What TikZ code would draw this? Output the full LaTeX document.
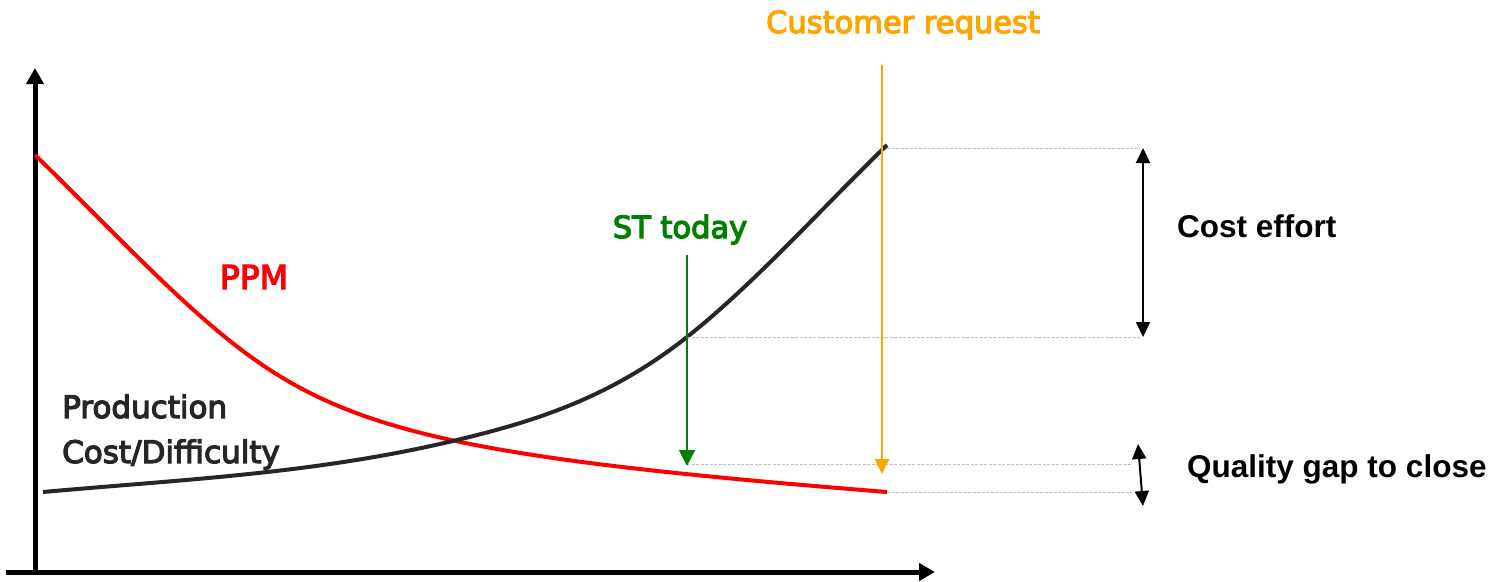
\documentclass[tikz,border=0pt]{standalone}
\usepackage{fontspec}
\setmainfont{DejaVu Sans}
\newfontfamily\arialbf{Liberation Sans Bold}
\usetikzlibrary{arrows.meta}
\newcommand\heavytext[1]{\special{pdf:code 2 Tr 1.2 w}#1\special{pdf:code 0 Tr}}
\definecolor{ppmred}{HTML}{FF0000}
\definecolor{costblk}{HTML}{262626}
\definecolor{stgreen}{HTML}{008000}
\definecolor{custorange}{HTML}{FFA500}
\definecolor{guide}{HTML}{BFBFBF}
\begin{document}
\begin{tikzpicture}[x=1pt,y=-1pt,
  axis/.style={line width=5pt,-{Triangle[width=17pt,length=16pt]}},
  guideline/.style={guide,line width=0.8pt,dash pattern=on 3pt off 1.5pt},
  dim/.style={line width=2pt,{Triangle[width=14pt,length=15pt]}-{Triangle[width=14pt,length=15pt]}},
  lbl/.style={inner sep=0pt,anchor=base,font=\fontsize{30.5}{36}\selectfont},
  blbl/.style={inner sep=0pt,anchor=base west,font=\arialbf\fontsize{31.5}{36}\selectfont}]
\useasboundingbox (0,0) rectangle (1498,581);
% axes
\coordinate (orig) at (35,572);
\coordinate (ytip) at (35,68);
\coordinate (xstart) at (6,572);
\coordinate (xtip) at (935,572);
\draw[axis] (35,574) -- (ytip);
\draw[axis] (xstart) -- (xtip);
% curves
\coordinate (r0) at (35,155);
\coordinate (r1) at (213,327);
\coordinate (r2) at (887,492);
\draw[ppmred,line width=4pt] (r0) .. controls (95,213) and (155,277.7) .. (r1)
  .. controls (333,429) and (437,456) .. (r2);
\coordinate (k0) at (43,492);
\coordinate (k1) at (457,440);
\coordinate (k2) at (687,337);
\coordinate (k3) at (887,145);
\draw[costblk,line width=4pt] (k0) .. controls (183,479.4) and (317,473.6) .. (k1)
  .. controls (534,421.5) and (610,398) .. (k2)
  .. controls (754,284) and (820,210) .. (k3);
% reference points
\coordinate (ctop) at (887,148);
\coordinate (qtop) at (687,464);
\coordinate (qbot) at (887,492);
\coordinate (ctopR) at (1140,148);
\coordinate (cmidR) at (1140,337);
\coordinate (qtopR) at (1132,464);
\coordinate (qbotR) at (1132,492);
\draw[guideline] (ctop) -- (ctopR);
\draw[guideline] (k2) -- (cmidR);
\draw[guideline] (qtop) -- (qtopR);
\draw[guideline] (qbot) -- (qbotR);
% dimension arrows
\coordinate (ca) at (1143,148);
\coordinate (cb) at (1143,337);
\draw[dim] (ca) -- (cb);
\coordinate (qa) at (1138,444);
\coordinate (qb) at (1143,506);
\draw[dim] (qa) -- (qb);
% marker arrows
\coordinate (gs) at (687,255);
\coordinate (ge) at (687,466);
\draw[stgreen,line width=2pt,-{Triangle[width=16pt,length=16pt]}] (gs) -- (ge);
\coordinate (os) at (882,65);
\coordinate (oe) at (882,474);
\draw[custorange,line width=2.5pt,-{Triangle[width=14pt,length=15pt]}] (os) -- (oe);
% labels
\node[lbl,text=custorange] (cust) at (903,33) {\heavytext{Customer request}};
\node[lbl,text=stgreen] (st) at (680,238) {\heavytext{ST today}};
\node[lbl,text=ppmred,font=\fontsize{33}{40}\selectfont] (ppm) at (254,289) {\heavytext{PPM}};
\node[lbl,anchor=base west,text=costblk,font=\fontsize{31}{40}\selectfont] (prod1) at (62,418) {\heavytext{Production}};
\node[lbl,anchor=base west,text=costblk,font=\fontsize{31}{40}\selectfont] (prod2) at (62,463) {\heavytext{Cost/Difficulty}};
\node[blbl] (ce) at (1177,237) {Cost effort};
\node[blbl] (qg) at (1187,477) {Quality gap to close};
\end{tikzpicture}
\end{document}
